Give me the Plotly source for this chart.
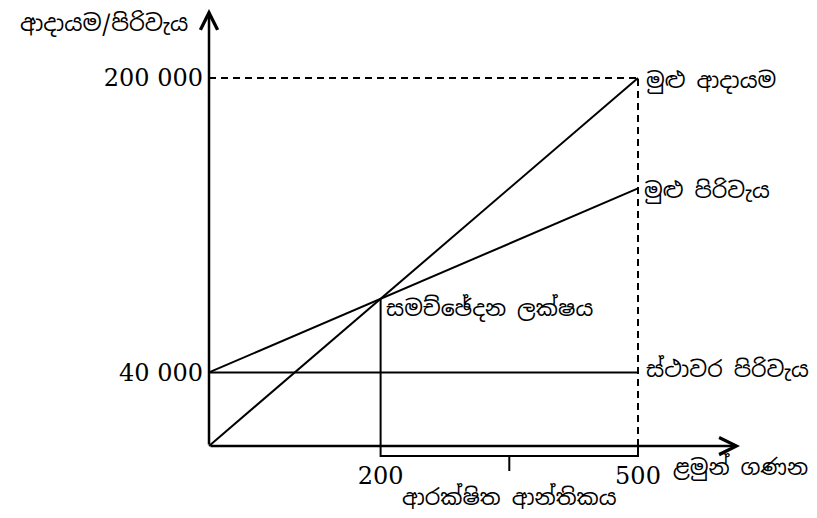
import plotly.graph_objects as go

# ---- data (break-even chart) ----
units = [0, 500]
total_revenue = [0, 200000]
fixed_cost = [40000, 40000]
total_cost = [40000, 140000]
break_even_units = 200
break_even_value = 80000
max_units = 500
max_value = 200000

y_ticks = [40000, 200000]
y_tick_text = ["40 000", "200 000"]
x_ticks = [200, 500]
x_tick_text = ["200", "500"]

label_y_axis = "ආදායම/පිරිවැය"
label_x_axis = "ළමුන් ගණන"
label_tr = "මුළු ආදායම"
label_tc = "මුළු පිරිවැය"
label_fc = "ස්ථාවර පිරිවැය"
label_bep = "සමච්ඡේදන ලක්ෂය"
label_mos = "ආරක්ෂිත ආන්තිකය"

# ---- geometry of the figure (pixels); page body has an 8px margin ----
W, H = 801, 502
ox, oy = 201, 438            # pixel position of the origin
kx = (630 - ox) / max_units  # px per unit
ky = (oy - 70) / max_value   # px per value
x_range = [-ox / kx, (W - ox) / kx]
y_range = [-(H - oy) / ky, oy / ky]
x_tip = (732 - ox) / kx
y_tip = (oy - 1) / ky

def px_to_val(p):
    return p / ky

brace_b = -px_to_val(10)
brace_t = -px_to_val(25)
mid = (break_even_units + max_units) / 2

black = "#000000"
sin_font = dict(family="Noto Sans Sinhala, Iskoola Pota, sans-serif", size=22, color=black)
num_font = dict(family="DejaVu Serif, serif", size=24, color=black)

fig = go.Figure()

line = dict(color=black, width=2)
dash = dict(color=black, width=2, dash="7px,5px")

fig.add_trace(go.Scatter(x=units, y=total_revenue, mode="lines", line=line))
fig.add_trace(go.Scatter(x=units, y=total_cost, mode="lines", line=line))
fig.add_trace(go.Scatter(x=units, y=fixed_cost, mode="lines", line=line))
fig.add_trace(go.Scatter(x=[0, max_units], y=[max_value, max_value], mode="lines", line=dash))
fig.add_trace(go.Scatter(x=[max_units, max_units], y=[0, max_value], mode="lines", line=dash))
fig.add_trace(go.Scatter(x=[break_even_units, break_even_units], y=[0, break_even_value],
                         mode="lines", line=line))
# margin of safety brace
fig.add_trace(go.Scatter(
    x=[break_even_units, break_even_units, mid, mid, mid, max_units, max_units],
    y=[0, brace_b, brace_b, brace_t, brace_b, brace_b, 0],
    mode="lines", line=dict(color=black, width=2)))

ann = []
# axes with arrows
ann.append(dict(x=0, y=y_tip, ax=0, ay=0, xref="x", yref="y", axref="x", ayref="y",
                text="", showarrow=True, arrowhead=5, arrowwidth=2.5, arrowsize=1.35,
                arrowcolor=black))
ann.append(dict(x=x_tip, y=0, ax=0, ay=0, xref="x", yref="y", axref="x", ayref="y",
                text="", showarrow=True, arrowhead=5, arrowwidth=2.5, arrowsize=1.35,
                arrowcolor=black))
# labels
ann.append(dict(x=0, y=y_tip, xref="x", yref="y", text=label_y_axis, showarrow=False,
                xanchor="right", yanchor="middle", xshift=-19, yshift=-14,
                font=dict(sin_font, size=22.5)))
ann.append(dict(x=x_tip, y=0, xref="x", yref="y", text=label_x_axis, showarrow=False,
                xanchor="center", yanchor="middle", yshift=-20, font=sin_font))
ann.append(dict(x=max_units, y=max_value, text=label_tr, showarrow=False,
                xanchor="left", yanchor="middle", xshift=6, yshift=-2, font=sin_font))
ann.append(dict(x=max_units, y=total_cost[-1], text=label_tc, showarrow=False,
                xanchor="left", yanchor="middle", xshift=4, yshift=-2, font=sin_font))
ann.append(dict(x=max_units, y=fixed_cost[-1], text=label_fc, showarrow=False,
                xanchor="left", yanchor="middle", xshift=6, yshift=4, font=sin_font))
ann.append(dict(x=break_even_units, y=break_even_value, text=label_bep, showarrow=False,
                xanchor="left", yanchor="middle", xshift=3, yshift=-9, font=sin_font))
ann.append(dict(x=mid, y=0, text=label_mos, showarrow=False,
                xanchor="center", yanchor="middle", yshift=-50, font=sin_font))

fig.update_layout(
    width=W, height=H,
    margin=dict(l=0, r=0, t=0, b=0, pad=0),
    paper_bgcolor="white", plot_bgcolor="white",
    showlegend=False,
    annotations=ann,
    xaxis=dict(range=x_range, showgrid=False, zeroline=False, showline=False, ticks="",
               tickvals=x_ticks, ticktext=x_tick_text, tickfont=num_font,
               anchor="free", position=(H - oy) / H, fixedrange=True, ticklabelstandoff=13),
    yaxis=dict(range=y_range, showgrid=False, zeroline=False, showline=False, ticks="",
               tickvals=y_ticks, ticktext=y_tick_text, tickfont=num_font,
               anchor="free", position=ox / W, fixedrange=True, ticklabelstandoff=6),
)

fig.write_html("out.html")
